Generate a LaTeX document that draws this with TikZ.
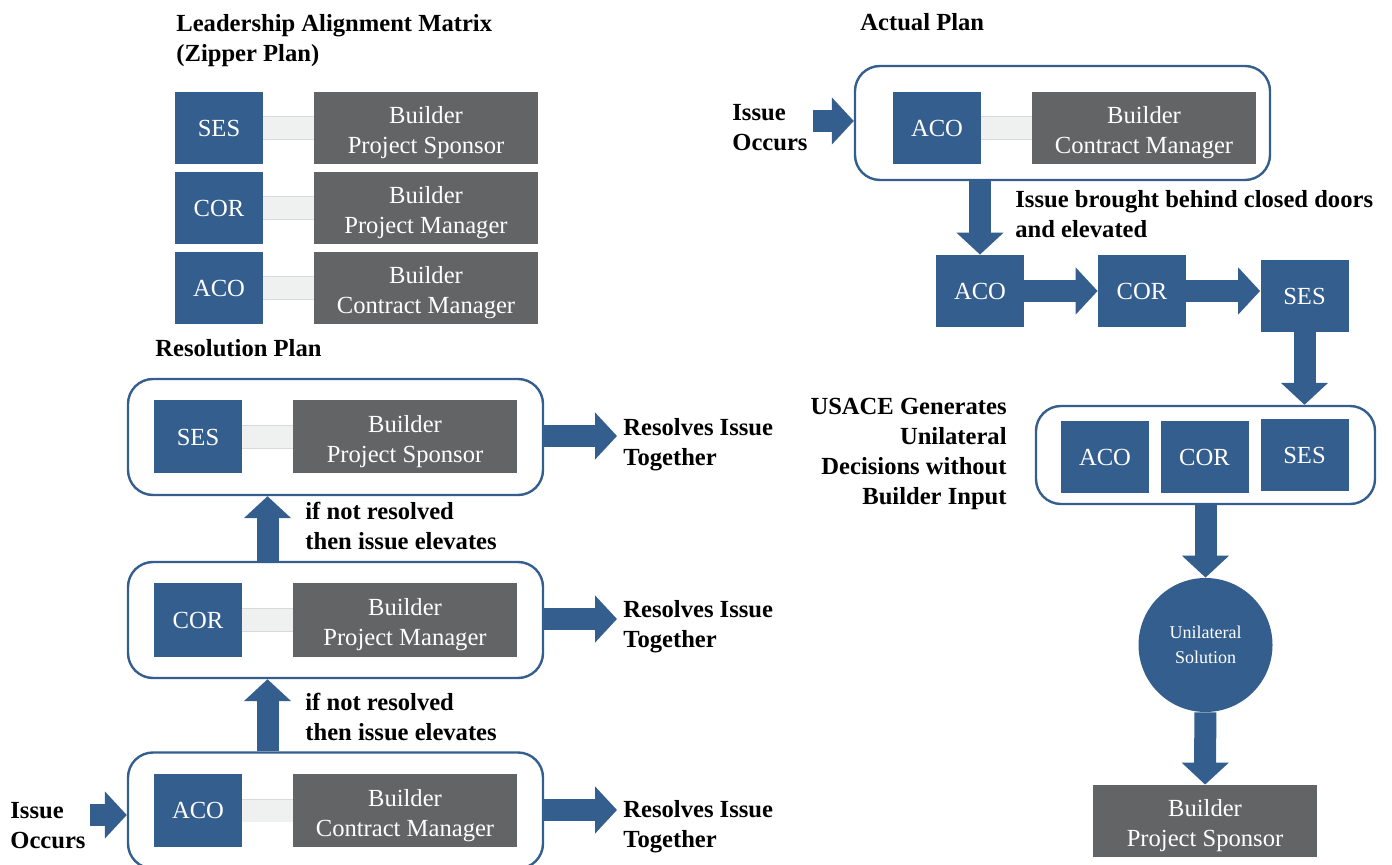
\documentclass[tikz,border=0pt]{standalone}
\usepackage{fontspec}
\setmainfont{Liberation Serif}
\usetikzlibrary{arrows.meta}
\definecolor{usaceblue}{RGB}{52, 94, 142}
\definecolor{buildergray}{RGB}{99, 100, 102}
\definecolor{zipgray}{RGB}{239, 241, 241}
\definecolor{zipedge}{RGB}{215, 218, 218}
\newcommand{\boxstrut}{\rule{0pt}{13.5pt}}

\begin{document}
\begin{tikzpicture}[x=0.5pt, y=-0.5pt,
        lbl/.style={font=\fontsize{12.3}{15}\selectfont\bfseries, align=left, inner sep=0pt},
        usace/.style={fill=usaceblue, text=white, minimum width=44pt, minimum height=36.5pt, inner sep=0pt, font=\fontsize{12.3}{15}\selectfont},
        builder/.style={fill=buildergray, text=white, minimum width=112pt, minimum height=36.5pt, inner sep=0pt, align=center, font=\fontsize{12.3}{15}\selectfont},
        group/.style={draw=usaceblue, line width=1.2pt, rounded corners=12.5pt, minimum width=207.5pt, minimum height=58pt, inner sep=0pt},
        zip/.style={draw=zipedge, line width=0.4pt, double=zipgray, double distance=11pt},
        flow/.style={draw=usaceblue, line width=11pt, -{Triangle[width=23pt, length=11pt]}}]
        \useasboundingbox (0,0) rectangle (1392,865);

        % Leadership alignment matrix {{{
        \node[lbl, anchor=base west] (mtitle) at (176,62) {Leadership Alignment Matrix\\(Zipper Plan)};
        \node[usace, minimum height=36pt] (mses) at (219,128) {SES};
        \node[builder, minimum height=36pt] (mbps) at (426,128) {\boxstrut Builder\\Project Sponsor};
        \node[usace, minimum height=36pt] (mcor) at (219,208) {COR};
        \node[builder, minimum height=36pt] (mbpm) at (426,208) {\boxstrut Builder\\Project Manager};
        \node[usace, minimum height=36pt] (maco) at (219,288) {ACO};
        \node[builder, minimum height=36pt] (mbcm) at (426,288) {\boxstrut Builder\\Contract Manager};
        \draw[zip] (mses) -- (mbps) (mcor) -- (mbpm) (maco) -- (mbcm);
        % }}}

        % Resolution plan {{{
        \node[lbl, anchor=base west] (rtitle) at (155,357) {Resolution Plan};
        \node[group] (rrow1) at (335.5,437) {};
        \node[group] (rrow2) at (335.5,620) {};
        \node[group] (rrow3) at (335.5,810.5) {};
        \node[usace] (rses) at (198,437) {SES};
        \node[builder] (rbps) at (405,437) {\boxstrut Builder\\Project Sponsor};
        \node[usace] (rcor) at (198,620) {COR};
        \node[builder] (rbpm) at (405,620) {\boxstrut Builder\\Project Manager};
        \node[usace] (raco) at (198,810.5) {ACO};
        \node[builder] (rbcm) at (405,810.5) {\boxstrut Builder\\Contract Manager};
        \draw[zip] (rses) -- (rbps) (rcor) -- (rbpm) (raco) -- (rbcm);

        \coordinate (rup) at (267.5,0);
        \draw[flow] (rrow2.north -| rup) -- (rrow1.south -| rup);
        \draw[flow] (rrow3.north -| rup) -- (rrow2.south -| rup);
        \node[lbl, anchor=base west] (relev1) at (305,550) {if not resolved\\then issue elevates};
        \node[lbl, anchor=base west] (relev2) at (305,740) {if not resolved\\then issue elevates};

        \coordinate (rin) at (90,815);
        \draw[flow] (rin) -- (rin -| rrow3.west);
        \node[lbl, anchor=base west] (rissue) at (10,848) {Issue\\Occurs};

        \coordinate (rout1) at (617,436);
        \coordinate (rout2) at (617,619);
        \coordinate (rout3) at (617,810);
        \draw[flow] (rrow1.east |- rout1) -- (rout1);
        \draw[flow] (rrow2.east |- rout2) -- (rout2);
        \draw[flow] (rrow3.east |- rout3) -- (rout3);
        \node[lbl, anchor=base west] (rres1) at (623,466) {Resolves Issue\\Together};
        \node[lbl, anchor=base west] (rres2) at (623,647) {Resolves Issue\\Together};
        \node[lbl, anchor=base west] (rres3) at (623,847) {Resolves Issue\\Together};
        % }}}

        % Actual plan {{{
        \node[lbl, anchor=base west] (atitle) at (860,31) {Actual Plan};
        \node[group, minimum height=57pt] (arow) at (1062.5,123) {};
        \node[usace, minimum height=36pt] (aaco1) at (937,128) {ACO};
        \node[builder, minimum height=36pt] (abcm) at (1144,128) {\boxstrut Builder\\Contract Manager};
        \draw[zip] (aaco1) -- (abcm);
        \node[lbl, anchor=base west] (aissue) at (732,151) {Issue\\Occurs};
        \coordinate (ain) at (813,121);
        \draw[flow] (ain) -- (ain -| arow.west);

        \node[usace, minimum height=36pt] (aaco2) at (980,291) {ACO};
        \node[usace, minimum height=36pt] (acor2) at (1142,291) {COR};
        \node[usace, minimum height=36pt] (ases2) at (1304.5,296) {SES};
        \draw[flow] (aaco2.north |- arow.south) -- (aaco2.north);
        \node[lbl, anchor=base west] (adoors) at (1015,238) {Issue brought behind closed doors\\and elevated};
        \draw[flow] (aaco2) -- (acor2);
        \draw[flow] (acor2.east) -- (acor2.east -| ases2.west);

        \node[group, minimum width=169.5pt, minimum height=49pt] (aall) at (1205.5,455) {};
        \node[usace, minimum height=36pt] (aaco3) at (1105,457.5) {ACO};
        \node[usace, minimum height=36pt] (acor3) at (1204.5,457.5) {COR};
        \node[usace, minimum height=36pt] (ases3) at (1304.5,455) {SES};
        \draw[flow] (ases2) -- (ases2.south |- aall.north);
        \node[lbl, anchor=base east, align=right] (ausace) at (1007,505) {USACE Generates\\Unilateral\\Decisions without\\Builder Input};

        \node[circle, fill=usaceblue, text=white, minimum size=67pt, inner sep=0pt, align=center, font=\fontsize{9}{12.5}\selectfont] (asol) at (1205.5,645) {Unilateral\\Solution};
        \draw[flow] (aall.south) -- (asol);
        \node[builder, minimum height=36pt] (abps) at (1205,821) {\boxstrut Builder\\Project Sponsor};
        \draw[flow] (asol) -- (abps);
        % }}}
\end{tikzpicture}
\end{document}
